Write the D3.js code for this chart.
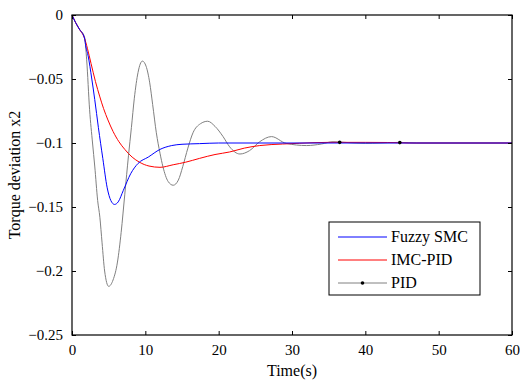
<!DOCTYPE html>
<html>
<head>
<meta charset="utf-8">
<script src="https://cdn.jsdelivr.net/npm/d3@7"></script>
<style>
  body { margin: 0; background: #fff; }
  text { font-family: "Liberation Serif", "Times New Roman", serif; fill: #000; }
</style>
</head>
<body>
<div id="chart"></div>
<script>
// values
var xTicks = [0, 10, 20, 30, 40, 50, 60];
var yTicks = [0, -0.05, -0.1, -0.15, -0.2, -0.25];
var seriesNames = ['Fuzzy SMC', 'IMC-PID', 'PID'];
var seriesColors = ['#0000ff', '#ff0000', '#808080'];

var smcTime = [0, 0.5, 1, 1.7, 1.9, 2.2, 2.7, 3.1, 3.6, 4.2, 4.8, 5.3, 5.8, 6.3, 7, 8, 9, 10.4, 12, 13.6, 15, 17.4, 20, 60];
var smcValue = [0, -0.006, -0.011, -0.018, -0.025, -0.032, -0.05, -0.066, -0.088, -0.112, -0.135, -0.145, -0.148, -0.146, -0.137, -0.124, -0.116, -0.111, -0.105, -0.102, -0.101, -0.1005, -0.1, -0.1];

var imcTime = [0, 0.5, 1, 1.7, 2.1, 2.6, 3.2, 3.8, 4.3, 4.9, 5.6, 6.4, 7.2, 8.2, 9.2, 10.5, 12, 13.8, 15.5, 17.4, 19.5, 21.5, 23.5, 25.6, 28.7, 31, 35, 40, 43, 46, 60];
var imcValue = [0, -0.006, -0.011, -0.018, -0.026, -0.038, -0.052, -0.064, -0.073, -0.082, -0.091, -0.099, -0.105, -0.111, -0.115, -0.118, -0.119, -0.117, -0.115, -0.112, -0.109, -0.107, -0.104, -0.102, -0.1008, -0.1002, -0.0995, -0.0995, -0.0996, -0.1, -0.1];

var pidTime = [0, 0.5, 1, 1.7, 2.0, 2.4, 2.8, 3.1, 3.5, 3.8, 4.1, 4.45, 5.0, 5.6, 6.2, 6.7, 7.2, 7.7, 8.1, 8.5, 9.0, 9.6, 10.1, 10.6, 11.0, 11.5, 12.0, 12.4, 13.1, 13.8, 14.5, 15.1, 15.8, 16.5, 17.5, 18.5, 19.5, 20.6, 21.5, 22.9, 24.2, 25.6, 27.2, 29.2, 32, 34, 35.6, 37.7, 40, 42, 44.7, 47, 60];
var pidValue = [0, -0.006, -0.011, -0.017, -0.035, -0.074, -0.1, -0.118, -0.145, -0.158, -0.178, -0.2, -0.212, -0.207, -0.193, -0.17, -0.14, -0.11, -0.088, -0.065, -0.045, -0.036, -0.04, -0.053, -0.07, -0.092, -0.108, -0.1185, -0.13, -0.133, -0.129, -0.1185, -0.104, -0.092, -0.085, -0.083, -0.087, -0.095, -0.103, -0.1086, -0.106, -0.099, -0.095, -0.1003, -0.102, -0.1008, -0.099, -0.0997, -0.1003, -0.1, -0.0995, -0.1, -0.1];
var pidMarkerTime = [36.5, 44.7];
var pidMarkerValue = [-0.0995, -0.0997];

var margin = {left: 72, right: 8, top: 15, bottom: 45},
    width = 520 - margin.left - margin.right,
    height = 380 - margin.top - margin.bottom;

var svg = d3.select('#chart')
    .append('svg')
    .attr('width', 520)
    .attr('height', 380);

var g = svg.append('g')
    .attr('transform', `translate(${margin.left},${margin.top})`);

var x = d3.scaleLinear().domain([0, 60]).range([0, width]);
var y = d3.scaleLinear().domain([-0.25, 0]).range([height, 0]);

function zip(ts, vs) {
    return ts.map(function(t, i) { return {t: t, v: vs[i]}; });
}
var series = [zip(smcTime, smcValue), zip(imcTime, imcValue), zip(pidTime, pidValue)];

var line = d3.line()
    .x(function(d) { return x(d.t); })
    .y(function(d) { return y(d.v); })
    .curve(d3.curveMonotoneX);

// draw PID first, then IMC, then SMC on top
[2, 1, 0].forEach(function(i) {
    g.append('path')
        .datum(series[i])
        .attr('fill', 'none')
        .attr('stroke', seriesColors[i])
        .attr('stroke-width', 1)
        .attr('d', line);
});

g.selectAll('.mk')
    .data(zip(pidMarkerTime, pidMarkerValue))
    .enter().append('circle')
    .attr('class', 'mk')
    .attr('cx', function(d) { return x(d.t); })
    .attr('cy', function(d) { return y(d.v); })
    .attr('r', 1.8)
    .attr('fill', '#000');

var fmt = function(d) { return d === 0 ? '0' : d3.format('')(+d.toFixed(2)); };

var xAxis = d3.axisBottom(x).tickValues(xTicks).tickSizeInner(-4).tickSizeOuter(0).tickPadding(9);
var yAxis = d3.axisLeft(y).tickValues(yTicks).tickSizeInner(-4).tickSizeOuter(0).tickPadding(9).tickFormat(fmt);

var ax = g.append('g').attr('transform', `translate(0,${height})`).call(xAxis);
var ay = g.append('g').call(yAxis);

// mirror ticks on top and right
g.append('g').call(d3.axisTop(x).tickValues(xTicks).tickSizeInner(-4).tickSizeOuter(0).tickFormat(''));
g.append('g').attr('transform', `translate(${width},0)`)
    .call(d3.axisRight(y).tickValues(yTicks).tickSizeInner(-4).tickSizeOuter(0).tickFormat(''));

g.selectAll('.domain').remove();
g.selectAll('.tick line').attr('stroke', '#000');
[ax, ay].forEach(function(a) {
    a.attr('font-family', '"Liberation Serif", serif').attr('font-size', 15);
    a.selectAll('text').style('font-size', '15px').style('font-family', '"Liberation Serif", serif');
});

g.append('rect')
    .attr('x', 0).attr('y', 0)
    .attr('width', width).attr('height', height)
    .attr('fill', 'none')
    .attr('stroke', '#000')
    .attr('stroke-width', 1.2);

// axis titles
svg.append('text')
    .attr('x', margin.left + width / 2)
    .attr('y', 376)
    .attr('text-anchor', 'middle')
    .style('font-size', '16px')
    .text('Time(s)');

svg.append('text')
    .attr('transform', 'rotate(-90)')
    .attr('x', -(margin.top + height / 2))
    .attr('y', 20)
    .attr('text-anchor', 'middle')
    .style('font-size', '16px')
    .text('Torque deviation x2');

// legend
var lg = svg.append('g').attr('transform', 'translate(329,222)');
lg.append('rect')
    .attr('width', 151).attr('height', 73)
    .attr('fill', '#fff')
    .attr('stroke', '#000')
    .attr('stroke-width', 1);

var item = lg.selectAll('.item')
    .data(seriesNames)
    .enter().append('g')
    .attr('class', 'item')
    .attr('transform', function(d, i) { return `translate(0,${15 + i * 23})`; });

item.append('line')
    .attr('x1', 9).attr('x2', 58)
    .attr('stroke', function(d, i) { return seriesColors[i]; })
    .attr('stroke-width', 1);

item.filter(function(d, i) { return i === 2; })
    .append('circle')
    .attr('cx', 33.5).attr('r', 1.8).attr('fill', '#000');

item.append('text')
    .attr('x', 62)
    .attr('y', 5)
    .style('font-size', '16px')
    .text(function(d) { return d; });
</script>
</body>
</html>
